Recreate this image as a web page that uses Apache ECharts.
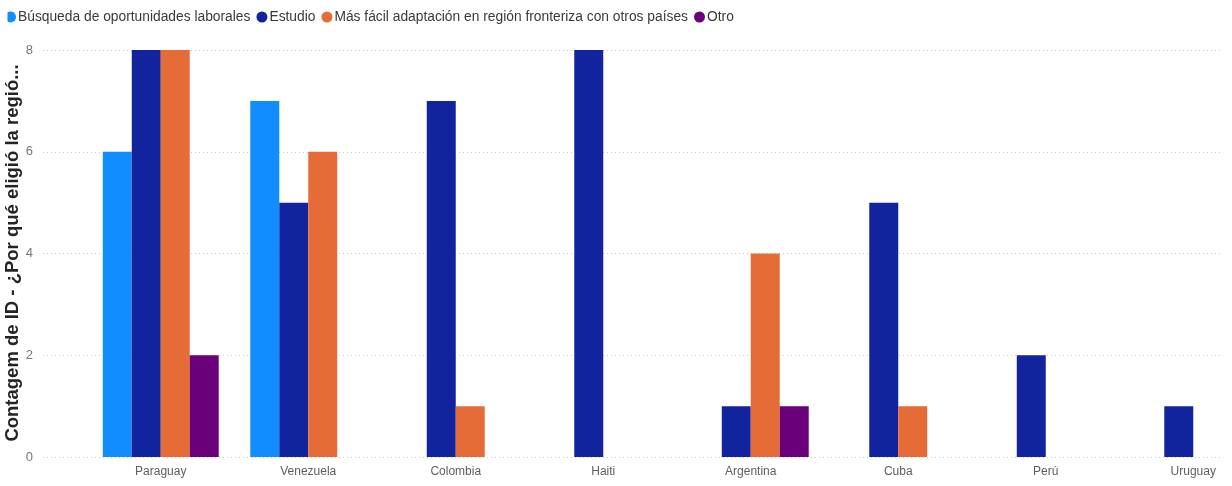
<!DOCTYPE html>
<html>
<head>
<meta charset="utf-8">
<script src="https://cdn.jsdelivr.net/npm/echarts@6/dist/echarts.min.js"></script>
<style>
html,body{margin:0;padding:0;background:#fff;}
#c{width:1232px;height:486px;}
</style>
</head>
<body>
<div id="c"></div>
<script>
const categories = ['Paraguay', 'Venezuela', 'Colombia', 'Haiti', 'Argentina', 'Cuba', 'Perú', 'Uruguay'];
const seriesNames = ['Búsqueda de oportunidades laborales', 'Estudio', 'Más fácil adaptación en región fronteriza con otros países', 'Otro'];
const busqueda = [6, 7, null, null, null, null, null, null];
const estudio = [8, 5, 7, 8, 1, 5, 2, 1];
const masFacil = [8, 6, 1, null, 4, 1, null, null];
const otro = [2, null, null, null, 1, null, null, null];
const yTicks = [0, 2, 4, 6, 8];
const yTitle = 'Contagem de ID - ¿Por qué eligió la regió...';
const colors = ['#118DFF', '#12239E', '#E66C37', '#6B007B'];

const chart = echarts.init(document.getElementById('c'), null, {renderer: 'canvas'});
const values = [busqueda, estudio, masFacil, otro];
const font = '"Segoe UI", "Liberation Sans", Arial, sans-serif';
const clippedCircle = 'path://M0,0M11,11M2.5,0.89A5.5,5.5,0,1,1,2.5,10.11Z';

chart.setOption({
  animation: false,
  color: colors,
  legend: {
    data: seriesNames.map((n, i) => i === 0 ? {name: n, icon: clippedCircle} : {name: n}),
    left: 0, top: 5,
    icon: 'circle',
    itemWidth: 11, itemHeight: 11,
    itemGap: 6,
    textStyle: {fontFamily: font, fontSize: 13.8, color: '#3b3a39', padding: [0, 0, 0, -3]}
  },
  grid: [
    {left: 43, right: 12, top: 50, bottom: 29, outerBoundsMode: 'none'},
    {left: 87, width: 1180, top: 50, bottom: 29, outerBoundsMode: 'none'}
  ],
  xAxis: [
    {type: 'category', gridIndex: 0, data: [''], show: false},
    {type: 'category', gridIndex: 1, data: categories,
     axisLine: {show: false}, axisTick: {show: false},
     axisLabel: {fontFamily: font, fontSize: 12, color: '#605e5c', margin: 9}}
  ],
  yAxis: [
    {type: 'value', gridIndex: 0, min: 0, max: 8, interval: 2,
     axisLine: {show: false}, axisTick: {show: false},
     axisLabel: {fontFamily: font, fontSize: 13, color: '#777', margin: 10,
       formatter: v => yTicks.includes(v) ? String(v) : ''},
     splitLine: {lineStyle: {color: '#c8c8c8', type: [1, 3], width: 1}}},
    {type: 'value', gridIndex: 1, min: 0, max: 8, interval: 2, show: false, splitLine: {show: false}}
  ],
  graphic: [{
    type: 'text', x: 13, y: 253, rotation: Math.PI / 2,
    style: {text: yTitle, fontFamily: font, fontSize: 18.5, fontWeight: 'bold', fill: '#252423',
      align: 'center', verticalAlign: 'middle'}
  }],
  series: values.map((d, i) => ({
    name: seriesNames[i], type: 'bar', xAxisIndex: 1, yAxisIndex: 1,
    data: d, barGap: '0%', barCategoryGap: '21.4%',
    itemStyle: {color: colors[i]}
  }))
});
</script>
</body>
</html>
